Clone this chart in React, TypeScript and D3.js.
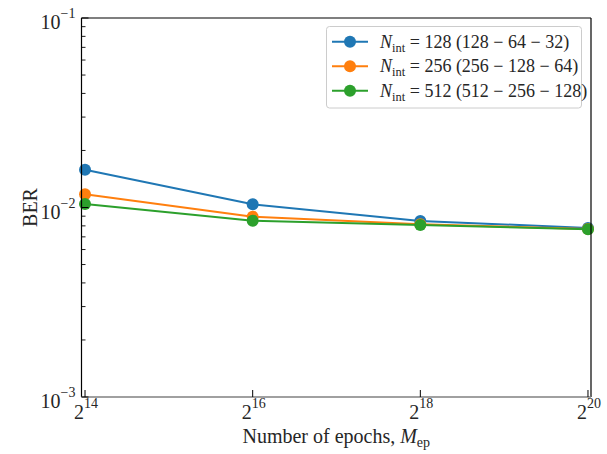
import React from "react";
import * as d3 from "d3";

const epochsLog2 = [14, 16, 18, 20];
const ber128 = [0.0158, 0.0104, 0.00849, 0.0078];
const ber256 = [0.01174, 0.00894, 0.00817, 0.0077];
const ber512 = [0.01043, 0.00852, 0.00809, 0.00767];
const seriesNames = ["128 (128 − 64 − 32)", "256 (256 − 128 − 64)", "512 (512 − 256 − 128)"];
const seriesColors = ["#1f77b4", "#ff7f0e", "#2ca02c"];
const yMajorTicks = [1e-3, 1e-2, 1e-1];
const yTickExp = ["−3", "−2", "−1"];

const W = 607, H = 454;
const L = 81.5, R = 591, T = 18, B = 397;
const FONT = "'Liberation Serif', 'DejaVu Serif', serif";

export default function App() {
  const x = d3.scaleLinear().domain([13.958, 20.036]).range([L, R]);
  const y = d3.scaleLog().domain([1e-3, 1e-1]).range([B, T]);
  const all = [ber128, ber256, ber512];
  const line = d3.line<number>().x((_, i) => x(epochsLog2[i])).y((d) => y(d));

  const minor: number[] = [];
  for (const dec of [1e-3, 1e-2]) for (let k = 2; k <= 9; k++) minor.push(dec * k);

  return (
    <svg width={W} height={H} style={{ position: "absolute", left: 0, top: 0 }} fontFamily={FONT}>
      <rect x={0} y={0} width={W} height={H} fill="#fff" />
      {all.map((s, si) => (
        <g key={si}>
          <path d={line(s) || ""} fill="none" stroke={seriesColors[si]} strokeWidth={2} />
          {s.map((v, i) => (
            <circle key={i} cx={x(epochsLog2[i])} cy={y(v)} r={6} fill={seriesColors[si]} />
          ))}
        </g>
      ))}
      {/* spines */}
      <line x1={L} y1={T} x2={R} y2={T} stroke="#000" strokeWidth={1.2} />
      <line x1={L} y1={T} x2={L} y2={B} stroke="#000" strokeWidth={1.2} />
      <line x1={R} y1={T} x2={R} y2={B} stroke="#000" strokeWidth={1.2} />
      <line x1={L} y1={B} x2={R} y2={B} stroke="#808080" strokeWidth={1.6} />
      {/* y ticks */}
      {minor.map((v, i) => (
        <line key={i} x1={L} x2={L + 4} y1={y(v)} y2={y(v)} stroke="#000" strokeWidth={0.9} />
      ))}
      {yMajorTicks.map((v, i) => (
        <g key={i}>
          <line x1={L} x2={L + 7} y1={y(v)} y2={y(v)} stroke="#000" strokeWidth={1} />
          <text x={L - 6} y={y(v) + 11} textAnchor="end" fontSize={20} fill="#262626">
            10<tspan dy={-11} fontSize={14}>{yTickExp[i]}</tspan>
          </text>
        </g>
      ))}
      {/* x ticks */}
      {epochsLog2.map((e, i) => (
        <g key={i}>
          <line x1={x(e)} x2={x(e)} y1={B} y2={B - 7} stroke="#000" strokeWidth={1} />
          <text x={x(e) + 1} y={B + 22} textAnchor="middle" fontSize={20} fill="#262626">
            2<tspan dy={-11} fontSize={14}>{e}</tspan>
          </text>
        </g>
      ))}
      {/* axis labels */}
      <text x={(L + R) / 2} y={443} textAnchor="middle" fontSize={20} fill="#262626">
        Number of epochs, <tspan fontStyle="italic">M</tspan>
        <tspan fontSize={14} dy={4}>ep</tspan>
      </text>
      <text transform={`translate(37, ${(T + B) / 2}) rotate(-90)`} textAnchor="middle" fontSize={20} fill="#262626">
        BER
      </text>
      {/* legend */}
      <rect x={326.5} y={26.5} width={255} height={81.5} rx={3} fill="#fff" stroke="#cccccc" strokeWidth={1} />
      {seriesNames.map((n, i) => {
        const ly = 41.7 + i * 24.5;
        return (
          <g key={i}>
            <line x1={332} x2={368} y1={ly} y2={ly} stroke={seriesColors[i]} strokeWidth={2} />
            <circle cx={350} cy={ly} r={6} fill={seriesColors[i]} />
            <text x={380} y={ly + 6} fontSize={18} fill="#262626">
              <tspan fontStyle="italic">N</tspan>
              <tspan fontSize={12.5} dy={4}>int</tspan>
              <tspan dy={-4}> = {n}</tspan>
            </text>
          </g>
        );
      })}
    </svg>
  );
}
